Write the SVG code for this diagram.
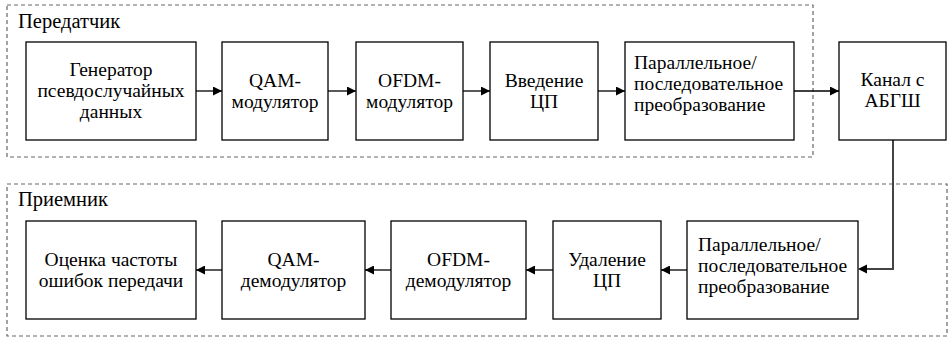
<svg xmlns="http://www.w3.org/2000/svg" width="951" height="342" viewBox="0 0 951 342">
<style>
.grp{fill:none;stroke:#666;stroke-width:1.2;stroke-dasharray:4 3}
.box{fill:#fff;stroke:#000;stroke-width:1.3}
text{font-family:'Liberation Serif','Times New Roman',serif;fill:#000}
.t{font-size:19.5px}
.c{text-anchor:middle}
.lbl{font-size:20.5px}
.ln{fill:none;stroke:#000;stroke-width:1.3}
.ln2{fill:none;stroke:#444;stroke-width:2}
</style>
<defs>
<marker id="ah" markerWidth="9" markerHeight="9" refX="9" refY="4.5" orient="auto" markerUnits="userSpaceOnUse">
<path d="M0,0 L9,4.5 L0,9 Z" fill="#000"/>
</marker>
</defs>
<g id="transmitter">
<rect class="grp" x="7" y="5" width="806" height="152"/>
<text class="lbl" x="18" y="28">Передатчик</text>
</g>
<g id="receiver">
<rect class="grp" x="7" y="184" width="940" height="152"/>
<text class="lbl" x="18" y="206">Приемник</text>
</g>
<g id="connectors">
<line class="ln" x1="196" y1="91" x2="222" y2="91" marker-end="url(#ah)"/>
<line class="ln" x1="328" y1="91" x2="356" y2="91" marker-end="url(#ah)"/>
<line class="ln" x1="463" y1="91" x2="490" y2="91" marker-end="url(#ah)"/>
<line class="ln" x1="598" y1="91" x2="625" y2="91" marker-end="url(#ah)"/>
<line class="ln" x1="794" y1="91" x2="839" y2="91" marker-end="url(#ah)"/>
<polyline class="ln2" points="893,140 893,269 866,269"/>
<path d="M858,269 L867,264.5 L867,273.5 Z" fill="#000"/>
<line class="ln" x1="687" y1="270" x2="661" y2="270" marker-end="url(#ah)"/>
<line class="ln" x1="553" y1="270" x2="526" y2="270" marker-end="url(#ah)"/>
<line class="ln" x1="391" y1="270" x2="365" y2="270" marker-end="url(#ah)"/>
<line class="ln" x1="222" y1="270" x2="196" y2="270" marker-end="url(#ah)"/>
</g>
<g id="gen">
<rect class="box" x="26" y="42" width="170" height="98"/>
<text class="t c" x="111" y="76">Генератор</text>
<text class="t c" x="111" y="97">псевдослучайных</text>
<text class="t c" x="111" y="118">данных</text>
</g>
<g id="qammod">
<rect class="box" x="222" y="42" width="106" height="98"/>
<text class="t c" x="275" y="87">QAM-</text>
<text class="t c" x="275" y="108">модулятор</text>
</g>
<g id="ofdmmod">
<rect class="box" x="356" y="42" width="107" height="98"/>
<text class="t c" x="409.5" y="87">OFDM-</text>
<text class="t c" x="409.5" y="108">модулятор</text>
</g>
<g id="cpins">
<rect class="box" x="490" y="42" width="108" height="98"/>
<text class="t c" x="544" y="87">Введение</text>
<text class="t c" x="544" y="108">ЦП</text>
</g>
<g id="ps1">
<rect class="box" x="625" y="42" width="169" height="98"/>
<text class="t" x="634" y="69">Параллельное/</text>
<text class="t" x="634" y="90">последовательное</text>
<text class="t" x="634" y="111">преобразование</text>
</g>
<g id="channel">
<rect class="box" x="839" y="42" width="107" height="98"/>
<text class="t c" x="892.5" y="86">Канал с</text>
<text class="t c" x="892.5" y="107">АБГШ</text>
</g>
<g id="ps2">
<rect class="box" x="687" y="221" width="171" height="98"/>
<text class="t" x="698" y="251">Параллельное/</text>
<text class="t" x="698" y="272">последовательное</text>
<text class="t" x="698" y="293">преобразование</text>
</g>
<g id="cprem">
<rect class="box" x="553" y="221" width="108" height="98"/>
<text class="t c" x="607" y="266">Удаление</text>
<text class="t c" x="607" y="287">ЦП</text>
</g>
<g id="ofdmdem">
<rect class="box" x="391" y="221" width="135" height="98"/>
<text class="t c" x="458.5" y="266">OFDM-</text>
<text class="t c" x="458.5" y="287">демодулятор</text>
</g>
<g id="qamdem">
<rect class="box" x="222" y="221" width="143" height="98"/>
<text class="t c" x="293.5" y="266">QAM-</text>
<text class="t c" x="293.5" y="287">демодулятор</text>
</g>
<g id="ber">
<rect class="box" x="26" y="221" width="170" height="98"/>
<text class="t c" x="111" y="266">Оценка частоты</text>
<text class="t c" x="111" y="287">ошибок передачи</text>
</g>
</svg>
